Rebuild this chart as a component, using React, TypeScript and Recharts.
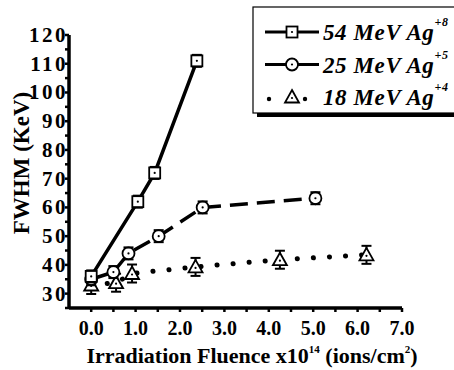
import React from 'react';
import { LineChart, Line, XAxis, YAxis } from 'recharts';

// fluence (x10^14 ions/cm^2) and FWHM (keV)
const fluence54 = [0, 1.05, 1.43, 2.38];
const fwhm54 = [36, 62, 72, 111];

const fluence25 = [0, 0.5, 0.84, 1.52, 2.51, 5.05];
const fwhm25 = [35, 37.5, 44, 50, 60, 63.2];

const fluence18 = [0, 0.56, 0.92, 2.35, 4.25, 6.2];
const fwhm18 = [33, 33.8, 37, 39.3, 41.8, 43.5];

const xTicks = [0, 0.5, 1, 1.5, 2, 2.5, 3, 3.5, 4, 4.5, 5, 5.5, 6, 6.5, 7];
const yTicks = [25, 30, 35, 40, 45, 50, 55, 60, 65, 70, 75, 80, 85, 90, 95, 100, 105, 110, 115, 120];

const legendItems = [
  { name: '54 MeV Ag', charge: '+8', shape: 'square' },
  { name: '25 MeV Ag', charge: '+5', shape: 'circle' },
  { name: '18 MeV Ag', charge: '+4', shape: 'triangle' },
];

const toPoints = (xs: number[], ys: number[]) => xs.map((x, i) => ({ x, y: ys[i] }));

const FONT = '"Liberation Serif", "Times New Roman", serif';

const Marker = ({ cx, cy, shape, bars = true }: any) => {
  if (cx == null || cy == null) return null;
  let body = null;
  if (shape === 'square') {
    body = <rect x={cx - 5.5} y={cy - 5.5} width={11} height={11} fill="#fff" stroke="#000" strokeWidth={1.8} />;
  } else if (shape === 'circle') {
    body = <circle cx={cx} cy={cy} r={6} fill="#fff" stroke="#000" strokeWidth={1.8} />;
  } else {
    body = (
      <polygon
        points={`${cx},${cy - 7} ${cx + 7},${cy + 5.5} ${cx - 7},${cy + 5.5}`}
        fill="#fff"
        stroke="#000"
        strokeWidth={1.8}
      />
    );
  }
  const h = shape === 'triangle' ? 9 : 6;
  return (
    <g>
      {bars && <line x1={cx} y1={cy - h} x2={cx} y2={cy + h} stroke="#000" strokeWidth={2} />}
      {body}
      <circle cx={cx} cy={cy + (shape === 'triangle' ? 1 : 0)} r={1.1} fill="#000" />
      {bars && (
        <g stroke="#000" strokeWidth={2}>
          <line x1={cx - 5} y1={cy - h} x2={cx + 5} y2={cy - h} />
          <line x1={cx - 5} y1={cy + h} x2={cx + 5} y2={cy + h} />
        </g>
      )}
    </g>
  );
};

const XTick = ({ x, y, payload }: any) => {
  const v = payload.value;
  if (!Number.isInteger(v)) return <g />;
  return (
    <text x={x} y={y} dy={21} textAnchor="middle" fontFamily={FONT} fontWeight="bold" fontSize={20} fill="#000">
      {v.toFixed(1)}
    </text>
  );
};

const YTick = ({ x, y, payload }: any) => {
  const v = payload.value;
  if (v % 10 !== 0) return <g />;
  return (
    <text x={x + 3} y={y} dy={7} textAnchor="end" fontFamily={FONT} fontWeight="bold" fontSize={21} letterSpacing={2.5} fill="#000">
      {v}
    </text>
  );
};

const ChartLegend = () => (
  <svg width={454} height={370} style={{ position: 'absolute', left: 0, top: 0, pointerEvents: 'none' }}>
    <rect x={257} y={11} width={200} height={106} fill="#000" />
    <rect x={253} y={7} width={204} height={106} fill="#fff" stroke="#000" strokeWidth={1.2} />
    {legendItems.map((item, i) => {
      const cy = 32 + i * 32.5;
      return (
        <g key={item.name}>
          {item.shape === 'triangle' ? (
            <g fill="#000">
              <circle cx={269} cy={cy + 2} r={2.2} />
              <circle cx={305} cy={cy + 2} r={2.2} />
            </g>
          ) : (
            <g stroke="#000" strokeWidth={3}>
              <line x1={265} y1={cy} x2={286} y2={cy} />
              <line x1={298} y1={cy} x2={319} y2={cy} />
            </g>
          )}
          <Marker cx={292} cy={cy} shape={item.shape} bars={false} />
          <text x={323} y={cy + 8} fontFamily={FONT} fontWeight="bold" fontStyle="italic" fontSize={23} letterSpacing={0.6} fill="#000">
            {item.name}
            <tspan fontSize={12} dy={-14}>{item.charge}</tspan>
          </text>
        </g>
      );
    })}
  </svg>
);

export default function App() {
  const data54 = toPoints(fluence54, fwhm54);
  const data25 = toPoints(fluence25, fwhm25);
  const data18 = toPoints(fluence18, fwhm18);

  return (
    <div style={{ position: 'absolute', left: 0, top: 0, width: 454, height: 370, background: '#fff' }}>
      <LineChart width={454} height={370} margin={{ top: 35, right: 52, bottom: 0, left: 0 }}>
        <XAxis
          type="number"
          dataKey="x"
          domain={[-0.5, 7]}
          ticks={xTicks}
          interval={0}
          allowDataOverflow
          height={62}
          axisLine={{ stroke: '#000', strokeWidth: 3.5 }}
          tickLine={{ stroke: '#000', strokeWidth: 2.5 }}
          tickSize={4}
          tick={<XTick />}
          label={{
            content: () => (
              <text x={252} y={363} textAnchor="middle" fontFamily={FONT} fontWeight="bold" fontSize={22} fill="#000">
                Irradiation Fluence x10
                <tspan fontSize={11} dy={-10}>14</tspan>
                <tspan dy={10}> (ions/cm</tspan>
                <tspan fontSize={11} dy={-10}>2</tspan>
                <tspan dy={10}>)</tspan>
              </text>
            ),
          }}
        />
        <YAxis
          type="number"
          dataKey="y"
          domain={[25, 120]}
          ticks={yTicks}
          interval={0}
          allowDataOverflow
          width={69}
          axisLine={{ stroke: '#000', strokeWidth: 3.5 }}
          tickLine={{ stroke: '#000', strokeWidth: 2.5 }}
          tickSize={4}
          tickMargin={0}
          tick={<YTick />}
          label={{
            content: () => (
              <text
                x={21}
                y={163}
                transform="rotate(-90 21 163)"
                textAnchor="middle"
                dominantBaseline="central"
                fontFamily={FONT}
                fontWeight="bold"
                fontSize={23}
                fill="#000"
              >
                FWHM (KeV)
              </text>
            ),
          }}
        />
        <Line
          data={data18}
          dataKey="y"
          type="linear"
          stroke="#000"
          strokeWidth={5}
          strokeDasharray="0.1 16"
          strokeLinecap="round"
          dot={(p: any) => <Marker key={`t${p.index}`} cx={p.cx} cy={p.cy} shape="triangle" />}
          isAnimationActive={false}
        />
        <Line
          data={data25}
          dataKey="y"
          type="linear"
          stroke="#000"
          strokeWidth={3.5}
          strokeDasharray="18 9"
          dot={(p: any) => <Marker key={`c${p.index}`} cx={p.cx} cy={p.cy} shape="circle" />}
          isAnimationActive={false}
        />
        <Line
          data={data54}
          dataKey="y"
          type="linear"
          stroke="#000"
          strokeWidth={3.5}
          dot={(p: any) => <Marker key={`s${p.index}`} cx={p.cx} cy={p.cy} shape="square" />}
          isAnimationActive={false}
        />
      </LineChart>
      <ChartLegend />
    </div>
  );
}
